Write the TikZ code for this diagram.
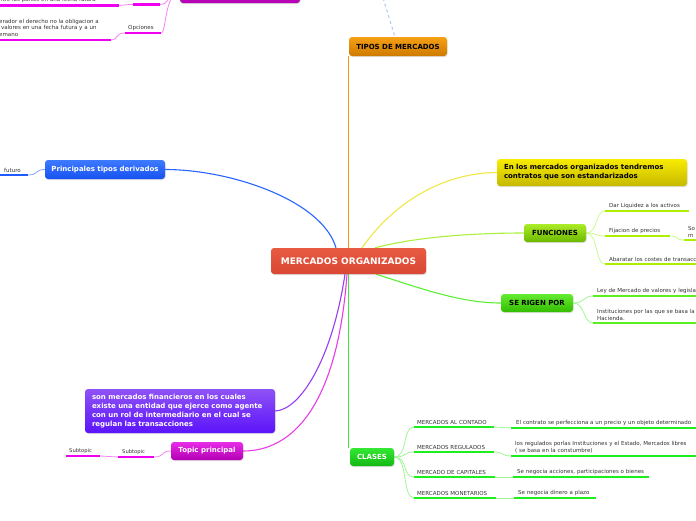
\documentclass[tikz,border=0pt]{standalone}
\usepackage{fontspec}
\setmainfont{DejaVu Sans}
\usetikzlibrary{shadows}
\pgfdeclarelayer{bg}
\pgfsetlayers{bg,main}
\definecolor{redT}{RGB}{232,90,66}\definecolor{redB}{RGB}{216,72,52}
\definecolor{oraT}{RGB}{246,160,20}\definecolor{oraB}{RGB}{205,122,0}
\definecolor{bluT}{RGB}{62,122,255}\definecolor{bluB}{RGB}{22,82,240}
\definecolor{yelT}{RGB}{248,236,0}\definecolor{yelB}{RGB}{198,184,0}
\definecolor{limT}{RGB}{172,236,40}\definecolor{limB}{RGB}{108,184,0}
\definecolor{grnT}{RGB}{100,236,50}\definecolor{grnB}{RGB}{52,188,0}
\definecolor{claT}{RGB}{52,232,52}\definecolor{claB}{RGB}{18,184,18}
\definecolor{purT}{RGB}{142,82,246}\definecolor{purB}{RGB}{92,20,250}
\definecolor{magT}{RGB}{232,44,232}\definecolor{magB}{RGB}{178,0,178}
\definecolor{lnOra}{RGB}{245,150,20}
\definecolor{lnBlu}{RGB}{40,100,255}
\definecolor{lnYel}{RGB}{240,230,70}
\definecolor{lnLim}{RGB}{170,240,60}
\definecolor{lnGrn}{RGB}{90,240,50}
\definecolor{lnCla}{RGB}{60,232,60}
\definecolor{lnPur}{RGB}{150,60,240}
\definecolor{lnMag}{RGB}{230,60,230}
\definecolor{lnLimL}{RGB}{205,250,140}
\definecolor{lnGrnL}{RGB}{160,246,150}
\definecolor{lnMagL}{RGB}{245,130,245}
\definecolor{ulLim}{RGB}{172,240,0}
\definecolor{ulGrn}{RGB}{90,240,30}
\definecolor{ulCla}{RGB}{30,238,30}
\definecolor{ulMag}{RGB}{240,0,240}
\definecolor{ulBlu}{RGB}{30,90,255}
\definecolor{txt}{RGB}{50,50,50}
\definecolor{dashBlue}{RGB}{170,200,240}
\tikzset{
  box/.style={rounded corners=3pt, inner sep=0pt,
    drop shadow={opacity=0.25, shadow xshift=0.6pt, shadow yshift=-1pt}},
  bigtxt/.style={font=\bfseries\fontsize{7}{9}\selectfont},
  leaf/.style={anchor=south west, inner xsep=2.5pt, inner ysep=2.3pt,
    font=\fontsize{5.5}{6.8}\selectfont, text=txt, align=left},
  ul/.style={line width=2.3pt},
  conn/.style={line width=1.1pt},
  sconn/.style={line width=0.8pt},
}
\begin{document}
\begin{tikzpicture}[x=1pt,y=-1pt]
\useasboundingbox (0,0) rectangle (696,520);
\clip (0,0) rectangle (696,520);

% ---------- main boxes ----------
\node[box, top color=redT, bottom color=redB, minimum width=155pt, minimum height=26pt,
  text=white, font=\bfseries\fontsize{9}{11}\selectfont] (root) at (348.5,261) {MERCADOS ORGANIZADOS};
\node[box, top color=oraT, bottom color=oraB, minimum width=98pt, minimum height=19pt,
  text=black, bigtxt] (tipos) at (398,46.5) {TIPOS DE MERCADOS};
\node[box, top color=bluT, bottom color=bluB, minimum width=120pt, minimum height=19pt,
  text=white, bigtxt] (deriv) at (105,169.5) {Principales tipos derivados};
\node[box, top color=yelT, bottom color=yelB, minimum width=190pt, minimum height=27pt,
  text=black, bigtxt, align=left, text width=176pt, inner xsep=7pt] (estand) at (592,172.5)
  {En los mercados organizados tendremos\\contratos que son estandarizados};
\node[box, top color=limT, bottom color=limB, minimum width=62pt, minimum height=18pt,
  text=black, bigtxt] (func) at (555,233) {FUNCIONES};
\node[box, top color=grnT, bottom color=grnB, minimum width=72pt, minimum height=18pt,
  text=black, bigtxt] (rigen) at (537,303) {SE RIGEN POR};
\node[box, top color=claT, bottom color=claB, minimum width=44pt, minimum height=18pt,
  text=white, bigtxt] (clases) at (372,457) {CLASES};
\node[box, top color=purT, bottom color=purB, minimum width=190pt, minimum height=44pt,
  text=white, bigtxt, align=left, text width=176pt, inner xsep=7pt] (defin) at (180,411)
  {son mercados financieros en los cuales\\existe una entidad que ejerce como agente\\con un rol de intermediario en el cual se\\regulan las transacciones};
\node[box, top color=magT, bottom color=magB, minimum width=72pt, minimum height=18pt,
  text=white, bigtxt] (topic) at (207,451) {Topic principal};
\node[box, top color=magT, bottom color=magB, minimum width=120pt, minimum height=22pt] (topbox) at (240,-8) {};
\coordinate (dtop) at (383,-2);

% ---------- leaves ----------
% FUNCIONES
\node[leaf, text width=76pt, inner xsep=4pt] (f1) at (605,211) {Dar Liquidez a los activos};
\node[leaf, text width=57pt, inner xsep=4pt] (f2) at (605,236) {Fijacion de precios};
\node[leaf, text width=20pt, inner xsep=4pt] (f2a) at (684,240) {So\\m};
\node[leaf, text width=100pt, inner xsep=4pt] (f3) at (605,264) {Abaratar los costes de transacc};
% SE RIGEN POR
\node[leaf, text width=110pt, inner xsep=4pt] (r1) at (593,296) {Ley de Mercado de valores y legisla};
\node[leaf, text width=110pt, inner xsep=4pt] (r2) at (593,323) {Instituciones por las que se basa la\\Hacienda.};
% CLASES
\node[leaf, text width=74pt, inner xsep=3pt] (c1) at (414,427) {MERCADOS AL CONTADO};
\node[leaf, text width=74pt, inner xsep=3pt] (c2) at (414,452) {MERCADOS REGULADOS};
\node[leaf, text width=75pt, inner xsep=3pt] (c3) at (414,477) {MERCADO DE CAPITALES};
\node[leaf, text width=76pt, inner xsep=3pt] (c4) at (414,498) {MERCADOS MONETARIOS};
\node[leaf, text width=180pt, inner xsep=5pt] (d1) at (511,428) {El contrato se perfecciona a un precio y un objeto determinado};
\node[leaf, text width=180pt, inner xsep=4pt] (d2) at (511,456) {los regulados porlas Instituciones y el Estado, Mercados libres\\( se basa en la constumbre)};
\node[leaf, text width=128pt, inner xsep=4pt] (d3) at (513,477) {Se negocia acciones, participaciones o bienes};
\node[leaf, text width=74pt, inner xsep=4pt] (d4) at (514,498) {Se negocia dinero a plazo};
% Topic principal
\node[leaf, text width=28pt, font=\fontsize{5.2}{6}\selectfont, inner xsep=4pt] (s1) at (118,457) {Subtopic};
\node[leaf, text width=28pt, font=\fontsize{5.2}{6}\selectfont, inner xsep=3pt] (s2) at (66,456) {Subtopic};
% Principales tipos derivados
\node[leaf, text width=20pt, inner xsep=4pt] (fut) at (0,175) {futuro};
% top-left magenta branch
\node[leaf, text width=30pt, inner xsep=3pt] (opc) at (125,33) {Opciones};
\node[leaf, text width=112pt, inner xsep=0pt, inner ysep=3pt] (opct) at (-1,40)
  {erador el derecho no la obligacion a\\\ valores en una fecha futura y a un\\emano};
\node[leaf, text width=120pt, inner xsep=0pt] (futt) at (-1,5.5) {ntre las partes en una fecha futura};
\coordinate (fa) at (133,4.5);
\coordinate (fb) at (160,4.5);

% ---------- connectors ----------
\begin{pgfonlayer}{bg}
\draw[conn, lnOra] (root.north) -- (tipos.south west -| root.north);
\draw[dashBlue, line width=1pt, dashed] (dtop) -- ([xshift=-3pt]tipos.north);
\draw[conn, lnBlu] ([xshift=-12.5pt]root.north) .. controls (322,200) and (230,169.5) .. (deriv.east);
\draw[conn, lnYel] ([xshift=13.5pt]root.north) .. controls (392,205) and (440,173) .. (estand.west);
\draw[conn, lnLim] ([xshift=26.5pt]root.north) .. controls (420,236) and (480,233) .. (func.west);
\draw[conn, lnGrn] ([xshift=27.5pt]root.south) .. controls (420,288) and (460,303) .. (rigen.west);
\draw[conn, lnCla] (root.south) -- (clases.north west -| root.south);
\draw[conn, lnPur] ([xshift=-3.5pt]root.south) .. controls (332,360) and (300,410) .. (defin.east);
\draw[conn, lnMag] ([xshift=-1.5pt]root.south) .. controls (337,410) and (290,451) .. (topic.east);
% FUNCIONES children
\foreach \n in {f1,f2,f3}
  \draw[sconn, lnLimL] (func.east) .. controls ([xshift=12pt]func.east) and ([xshift=-10pt]\n.south west) .. (\n.south west);
\draw[sconn, lnLimL] (f2.south east) .. controls ([xshift=9pt]f2.south east) and ([xshift=-9pt]f2a.south west) .. (f2a.south west);
% SE RIGEN POR children
\foreach \n in {r1,r2}
  \draw[sconn, lnGrnL] (rigen.east) .. controls ([xshift=12pt]rigen.east) and ([xshift=-10pt]\n.south west) .. (\n.south west);
% CLASES children
\foreach \n in {c1,c2,c3,c4}
  \draw[sconn, lnGrnL] (clases.east) .. controls ([xshift=14pt]clases.east) and ([xshift=-12pt]\n.south west) .. (\n.south west);
\draw[sconn, lnGrnL] (c1.south east) .. controls ([xshift=9pt]c1.south east) and ([xshift=-9pt]d1.south west) .. (d1.south west);
\draw[sconn, lnGrnL] (c2.south east) .. controls ([xshift=9pt]c2.south east) and ([xshift=-9pt]d2.south west) .. (d2.south west);
\draw[sconn, lnGrnL] (c3.south east) .. controls ([xshift=9pt]c3.south east) and ([xshift=-9pt]d3.south west) .. (d3.south west);
\draw[sconn, lnGrnL] (c4.south east) .. controls ([xshift=9pt]c4.south east) and ([xshift=-9pt]d4.south west) .. (d4.south west);
% Topic principal children
\draw[sconn, lnMagL] (topic.west) .. controls ([xshift=-10pt]topic.west) and ([xshift=10pt]s1.south east) .. (s1.south east);
\draw[sconn, lnMagL] (s1.south west) .. controls ([xshift=-9pt]s1.south west) and ([xshift=9pt]s2.south east) .. (s2.south east);
% Principales tipos derivados child
\draw[sconn, lnBlu!60] (deriv.west) .. controls ([xshift=-10pt]deriv.west) and ([xshift=10pt]fut.south east) .. (fut.south east);
% top-left magenta branch
\draw[sconn, lnMagL] (topbox.west) .. controls (168,-8) and (170,4.5) .. (fb);
\draw[sconn, lnMagL] (topbox.west) .. controls (165,-8) and (166,33) .. (opc.south east);
\draw[sconn, lnMagL] (fa) .. controls (124,4.5) and (124,5.5) .. (futt.south east);
\draw[sconn, lnMagL] (opc.south west) .. controls (115,33) and (118,40) .. (opct.south east);
\end{pgfonlayer}

% ---------- underlines ----------
\foreach \n in {f1,f2,f2a,f3} \draw[ul, ulLim] (\n.south west) -- (\n.south east);
\foreach \n in {r1,r2} \draw[ul, ulGrn] (\n.south west) -- (\n.south east);
\foreach \n in {c1,c2,c3,c4,d1,d2,d3,d4} \draw[ul, ulCla] (\n.south west) -- (\n.south east);
\foreach \n in {s1,s2,opc,opct,futt} \draw[ul, ulMag] (\n.south west) -- (\n.south east);
\draw[ul, ulMag] (fa) -- (fb);
\draw[ul, ulBlu] (fut.south west) -- (fut.south east);
\end{tikzpicture}
\end{document}
